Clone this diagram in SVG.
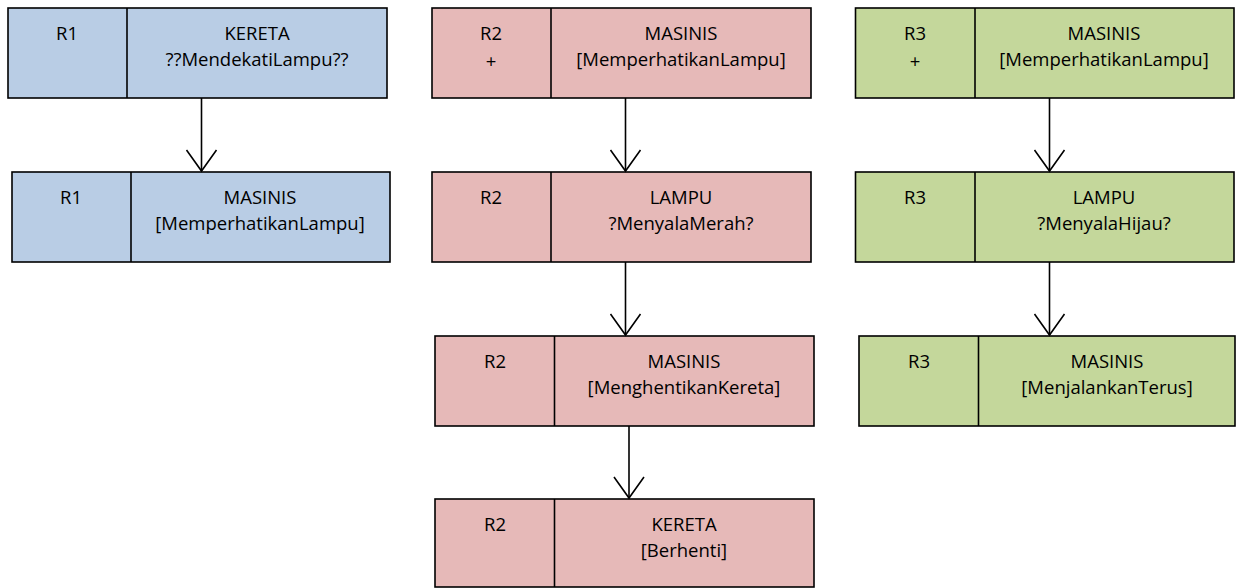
<svg xmlns="http://www.w3.org/2000/svg" width="1236" height="588" viewBox="0 0 1236 588">
<style>
rect, line.div { stroke: #000; stroke-width: 1.6; }
.b { fill: #b9cde5; }
.r { fill: #e6b9b8; }
.g { fill: #c4d79b; }
text { font-family: "Open Sans", "Liberation Sans", Arial, sans-serif; font-size: 18.5px; fill: #000; text-anchor: middle; }
.conn line { stroke: #000; stroke-width: 1.6; fill: none; marker-end: url(#arr); }
</style>
<defs>
<marker id="arr" markerUnits="userSpaceOnUse" viewBox="-23 -17 25 34" markerWidth="25" markerHeight="34" refX="0" refY="0" orient="auto">
<path d="M-21,-15 L0,0 L-21,15" fill="none" stroke="#000" stroke-width="1.6"/>
</marker>
</defs>
<rect width="1236" height="588" fill="#fff" stroke="none" style="stroke:none"/>

<g id="r1a">
<rect class="b" x="8" y="8" width="379" height="90"/>
<line class="div" x1="127" y1="8" x2="127" y2="98"/>
<text x="67" y="40">R1</text>
<text x="257" y="40">KERETA</text>
<text x="257" y="66">??MendekatiLampu??</text>
</g>
<g id="r1b">
<rect class="b" x="12" y="172" width="378" height="90"/>
<line class="div" x1="131" y1="172" x2="131" y2="262"/>
<text x="71" y="204">R1</text>
<text x="260" y="204">MASINIS</text>
<text x="260" y="230">[MemperhatikanLampu]</text>
</g>

<g id="r2a">
<rect class="r" x="432" y="8" width="379" height="90"/>
<line class="div" x1="551" y1="8" x2="551" y2="98"/>
<text x="491" y="40">R2</text>
<text x="491" y="68">+</text>
<text x="681" y="40">MASINIS</text>
<text x="681" y="66">[MemperhatikanLampu]</text>
</g>
<g id="r2b">
<rect class="r" x="432" y="172" width="379" height="90"/>
<line class="div" x1="551" y1="172" x2="551" y2="262"/>
<text x="491" y="204">R2</text>
<text x="681" y="204">LAMPU</text>
<text x="681" y="230">?MenyalaMerah?</text>
</g>
<g id="r2c">
<rect class="r" x="435" y="336" width="379" height="90"/>
<line class="div" x1="554.5" y1="336" x2="554.5" y2="426"/>
<text x="495" y="368">R2</text>
<text x="684" y="368">MASINIS</text>
<text x="684" y="394">[MenghentikanKereta]</text>
</g>
<g id="r2d">
<rect class="r" x="435" y="499" width="379" height="88"/>
<line class="div" x1="554.5" y1="499" x2="554.5" y2="587"/>
<text x="495" y="531">R2</text>
<text x="684" y="531">KERETA</text>
<text x="684" y="557">[Berhenti]</text>
</g>

<g id="r3a">
<rect class="g" x="855.5" y="8" width="378.5" height="90"/>
<line class="div" x1="975" y1="8" x2="975" y2="98"/>
<text x="915" y="40">R3</text>
<text x="915" y="68">+</text>
<text x="1104" y="40">MASINIS</text>
<text x="1104" y="66">[MemperhatikanLampu]</text>
</g>
<g id="r3b">
<rect class="g" x="855.5" y="172" width="378.5" height="90"/>
<line class="div" x1="975" y1="172" x2="975" y2="262"/>
<text x="915" y="204">R3</text>
<text x="1104" y="204">LAMPU</text>
<text x="1104" y="230">?MenyalaHijau?</text>
</g>
<g id="r3c">
<rect class="g" x="859" y="336" width="376" height="90"/>
<line class="div" x1="978.5" y1="336" x2="978.5" y2="426"/>
<text x="919" y="368">R3</text>
<text x="1107" y="368">MASINIS</text>
<text x="1107" y="394">[MenjalankanTerus]</text>
</g>

<g class="conn" id="connectors">
<line x1="201.5" y1="98" x2="201.5" y2="171"/>
<line x1="625.5" y1="98" x2="625.5" y2="171"/>
<line x1="625.5" y1="262" x2="625.5" y2="335"/>
<line x1="629" y1="426" x2="629" y2="498"/>
<line x1="1049.5" y1="98" x2="1049.5" y2="171"/>
<line x1="1049.5" y1="262" x2="1049.5" y2="335"/>
</g>
</svg>
